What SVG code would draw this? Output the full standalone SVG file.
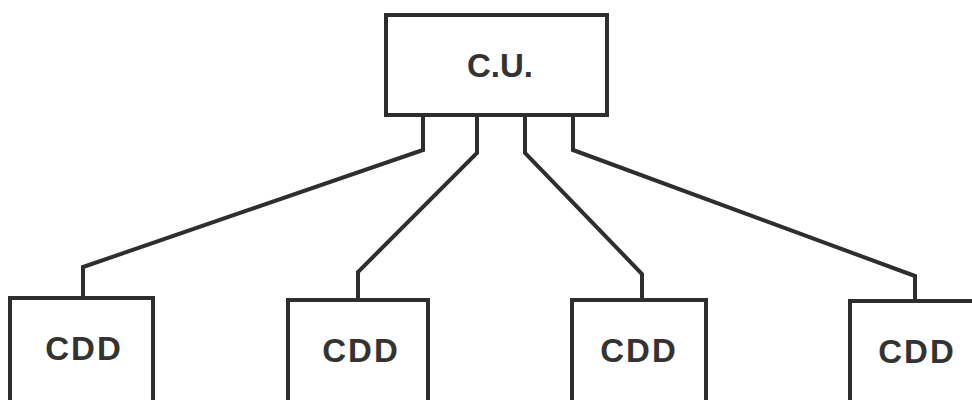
<svg xmlns="http://www.w3.org/2000/svg" width="972" height="400" viewBox="0 0 972 400">
<style>
.box{fill:none;stroke:#2e2e2e;stroke-width:4}
.wire{fill:none;stroke:#2e2e2e;stroke-width:4;stroke-linejoin:miter}
.lbl{font-family:"Liberation Sans",Arial,sans-serif;font-weight:bold;font-size:33px;fill:#333;text-anchor:middle}
</style>
<rect width="972" height="400" fill="#fff"/>
<g id="cu">
<rect class="box" x="386" y="15" width="221" height="100"/>
<text class="lbl" x="500" y="77">C.U.</text>
</g>
<g id="cdd1">
<rect class="box" x="10" y="298" width="143" height="120"/>
<text class="lbl" x="84" y="360" letter-spacing="2">CDD</text>
</g>
<g id="cdd2">
<rect class="box" x="288" y="300" width="140" height="120"/>
<text class="lbl" x="361" y="362" letter-spacing="2">CDD</text>
</g>
<g id="cdd3">
<rect class="box" x="572" y="300" width="134" height="120"/>
<text class="lbl" x="639" y="362" letter-spacing="2">CDD</text>
</g>
<g id="cdd4">
<rect class="box" x="850" y="301" width="140" height="120"/>
<text class="lbl" x="917" y="363" letter-spacing="2">CDD</text>
</g>
<g id="connectors">
<polyline class="wire" points="423,115 423,150 83,267 83,298"/>
<polyline class="wire" points="477,115 477,153 358,272 358,300"/>
<polyline class="wire" points="525,115 525,153 642,274 642,300"/>
<polyline class="wire" points="573,115 573,150 915,276 915,301"/>
</g>
</svg>
